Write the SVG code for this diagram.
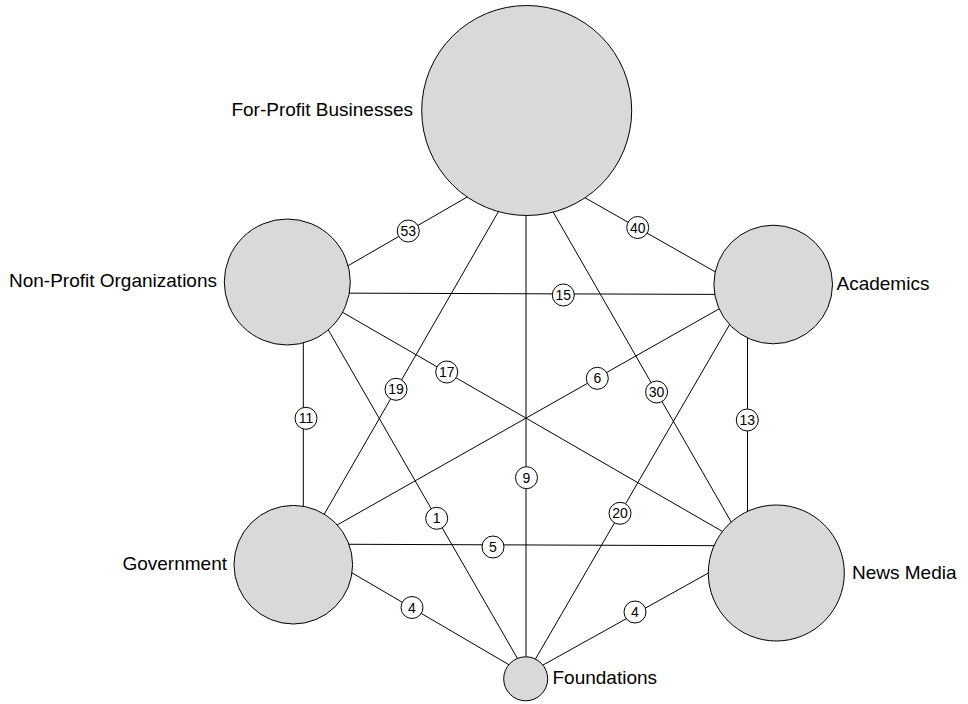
<svg xmlns="http://www.w3.org/2000/svg" width="968" height="704" viewBox="0 0 968 704">
<style>
.edge{stroke:#000;stroke-width:1;fill:none}
.node{fill:#d9d9d9;stroke:#000;stroke-width:1}
.lab{fill:#fff;stroke:#000;stroke-width:1}
.num{font-family:"Liberation Sans",Arial,sans-serif;font-size:14px;fill:#000;text-anchor:middle}
.name{font-family:"Liberation Sans",Arial,sans-serif;font-size:19px;fill:#000}
</style>
<rect width="968" height="704" fill="#fff"/>
<g id="connectors">
<line class="edge" x1="303" y1="291.7" x2="526" y2="163.1"/>
<line class="edge" x1="526" y1="164.2" x2="748" y2="290.5"/>
<line class="edge" x1="303" y1="293" x2="748" y2="294.5"/>
<line class="edge" x1="527" y1="162" x2="306.5" y2="545"/>
<line class="edge" x1="303" y1="289.5" x2="748" y2="546.2"/>
<line class="edge" x1="748" y1="292.5" x2="303" y2="544.3"/>
<line class="edge" x1="524.4" y1="162" x2="745" y2="546"/>
<line class="edge" x1="303.3" y1="293" x2="303.3" y2="545"/>
<line class="edge" x1="526" y1="162" x2="526" y2="675"/>
<line class="edge" x1="747.5" y1="294" x2="747.5" y2="546"/>
<line class="edge" x1="307" y1="293" x2="527" y2="675"/>
<line class="edge" x1="747.3" y1="294" x2="526.2" y2="675"/>
<line class="edge" x1="303" y1="544.1" x2="748" y2="545.8"/>
<line class="edge" x1="303" y1="544.2" x2="526" y2="674.7"/>
<line class="edge" x1="748" y1="551" x2="526" y2="674.5"/>
<g id="lbl-53"><circle class="lab" cx="408.3" cy="231" r="11"/><text class="num" x="408.3" y="236">53</text></g>
<g id="lbl-40"><circle class="lab" cx="637.7" cy="227.5" r="11"/><text class="num" x="637.7" y="232.5">40</text></g>
<g id="lbl-15"><circle class="lab" cx="563.3" cy="295" r="11"/><text class="num" x="563.3" y="300">15</text></g>
<g id="lbl-19"><circle class="lab" cx="396" cy="389.3" r="11"/><text class="num" x="396" y="394.3">19</text></g>
<g id="lbl-17"><circle class="lab" cx="446.7" cy="372" r="11"/><text class="num" x="446.7" y="377">17</text></g>
<g id="lbl-6"><circle class="lab" cx="597.3" cy="378.3" r="11"/><text class="num" x="597.3" y="383.3">6</text></g>
<g id="lbl-30"><circle class="lab" cx="656.6" cy="392" r="11"/><text class="num" x="656.6" y="397">30</text></g>
<g id="lbl-11"><circle class="lab" cx="306" cy="418.3" r="11"/><text class="num" x="306" y="423.3">11</text></g>
<g id="lbl-9"><circle class="lab" cx="526.5" cy="477.7" r="11"/><text class="num" x="526.5" y="482.7">9</text></g>
<g id="lbl-13"><circle class="lab" cx="747.3" cy="420" r="11"/><text class="num" x="747.3" y="425">13</text></g>
<g id="lbl-1"><circle class="lab" cx="436.7" cy="518.3" r="11"/><text class="num" x="436.7" y="523.3">1</text></g>
<g id="lbl-20"><circle class="lab" cx="620" cy="513.3" r="11"/><text class="num" x="620" y="518.3">20</text></g>
<g id="lbl-5"><circle class="lab" cx="493" cy="547" r="11"/><text class="num" x="493" y="552">5</text></g>
<g id="lbl-4a"><circle class="lab" cx="412" cy="607.5" r="11"/><text class="num" x="412" y="612.5">4</text></g>
<g id="lbl-4b"><circle class="lab" cx="635" cy="612" r="11"/><text class="num" x="635" y="617">4</text></g>
</g>
<g id="node-forprofit"><circle class="node" cx="526.7" cy="110.5" r="105"/><text class="name" x="413" y="115.5" text-anchor="end">For-Profit Businesses</text></g>
<g id="node-nonprofit"><circle class="node" cx="287.3" cy="282" r="63"/><text class="name" x="217" y="287" text-anchor="end">Non-Profit Organizations</text></g>
<g id="node-academics"><circle class="node" cx="773.2" cy="284.5" r="59.3"/><text class="name" x="836.5" y="290">Academics</text></g>
<g id="node-government"><circle class="node" cx="293.3" cy="564.7" r="59.3"/><text class="name" x="227" y="570" text-anchor="end">Government</text></g>
<g id="node-newsmedia"><circle class="node" cx="776.3" cy="573" r="68"/><text class="name" x="852" y="578.5">News Media</text></g>
<g id="node-foundations"><circle class="node" cx="525.7" cy="678.8" r="22"/><text class="name" x="552.5" y="683.5">Foundations</text></g>
</svg>
